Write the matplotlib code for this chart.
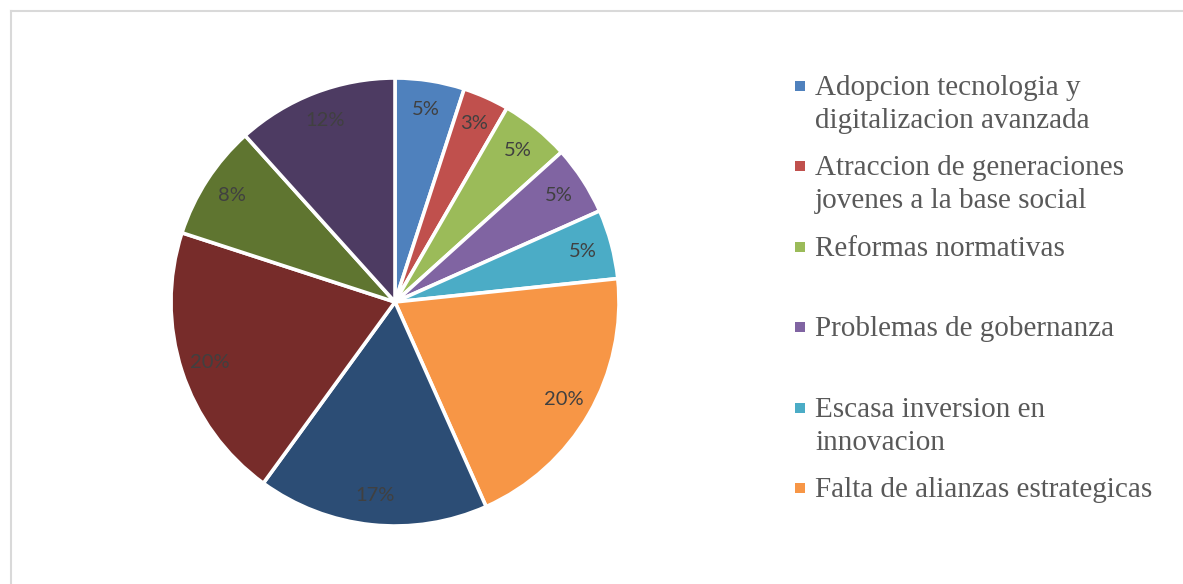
import matplotlib.pyplot as plt
from matplotlib.lines import Line2D
from matplotlib.patches import Rectangle

# respuestas por categoria (10 sectores, la leyenda solo muestra 6)
counts = [3, 2, 3, 3, 3, 12, 10, 12, 5, 7]
colors = ["#4F81BD", "#C0504D", "#9BBB59", "#8064A2", "#4BACC6",
          "#F79646", "#2C4D75", "#772C2A", "#5F7530", "#4D3B62"]
legend_labels = [
    "Adopcion tecnologia y\ndigitalizacion avanzada",
    "Atraccion de generaciones\njovenes a la base social",
    "Reformas normativas",
    "Problemas de gobernanza",
    "Escasa inversion en\ninnovacion",
    "Falta de alianzas estrategicas",
]

W, H = 1183, 584
fig = plt.figure(figsize=(W / 100, H / 100), dpi=100)

# marco gris claro (solo se ve arriba y a la izquierda)
fig.add_artist(Line2D([11 / W, 11 / W], [0, 1 - 11 / H], color="#d9d9d9", lw=1.5))
fig.add_artist(Line2D([11 / W, 1], [1 - 11 / H, 1 - 11 / H], color="#d9d9d9", lw=1.5))

cx, cy, r = 395, 302, 224
ax = fig.add_axes([(cx - r) / W, (H - cy - r) / H, 2 * r / W, 2 * r / H])
wedges, texts, autotexts = ax.pie(
    counts, colors=colors, startangle=90, counterclock=False,
    autopct="%1.0f%%", pctdistance=0.87, radius=1,
    wedgeprops=dict(edgecolor="white", linewidth=2.6),
    textprops=dict(color="#404040", fontsize=14.5, family="Lato"),
)
ax.set_xlim(-1.0, 1.0)
ax.set_ylim(-1.0, 1.0)
ax.set_aspect("equal")
ax.axis("off")

# leyenda manual: cada entrada ocupa el mismo alto, cuadro junto a la 1a linea
x_sq, x_txt = 795, 815
y0, dy, line_gap = 95, 80.4, 33
for i, lab in enumerate(legend_labels):
    yb = y0 + i * dy
    fig.add_artist(Rectangle((x_sq / W, 1 - (yb - 4) / H), 10 / W, 10 / H,
                             transform=fig.transFigure,
                             facecolor=wedges[i].get_facecolor(), edgecolor="none"))
    for j, line in enumerate(lab.split("\n")):
        fig.text(x_txt / W, 1 - (yb + j * line_gap) / H, line, ha="left",
                 va="baseline", fontsize=21, family="Liberation Serif",
                 color="#595959")

fig.savefig("out.png", dpi=100)
